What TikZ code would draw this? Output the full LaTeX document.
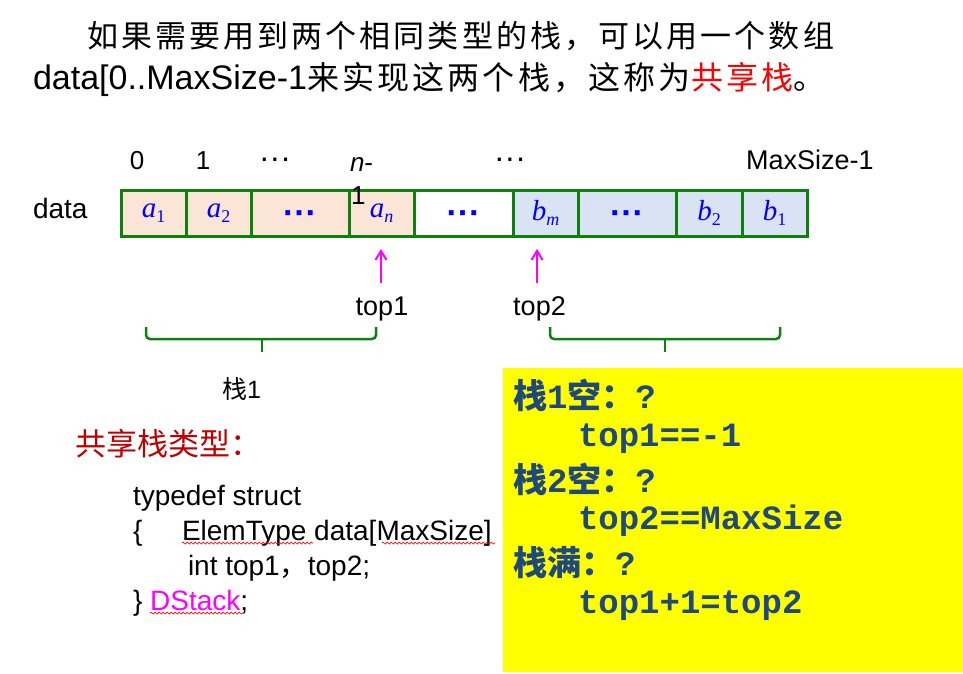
\documentclass[tikz,border=0pt]{standalone}
\usepackage{fontspec}
\setmainfont{Liberation Sans}
\setmonofont{Liberation Mono}
\newfontfamily\cjk{Noto Sans CJK SC}
\newfontfamily\cjkls[LetterSpace=10]{Noto Sans CJK SC}
\newfontfamily\tms{Liberation Serif}
\usetikzlibrary{arrows.meta,decorations.pathmorphing}
\definecolor{cellgreen}{HTML}{0E800E}
\definecolor{peach}{HTML}{FBE5D6}
\definecolor{paleblue}{HTML}{DAE3F3}
\definecolor{mag}{HTML}{FF00FF}
\definecolor{darkred}{HTML}{C00000}
\definecolor{navy}{HTML}{1F497D}
\definecolor{ylw}{HTML}{FFFF00}
\newcommand{\fs}[1]{\fontsize{#1}{#1}\selectfont}
\newcommand{\elem}[2]{\textcolor{blue}{\tms\fs{29}\itshape #1\raisebox{-5pt}{\fs{18}#2}}}
\newcommand{\cdts}{\raisebox{-11pt}[0pt][0pt]{\textcolor{blue}{\fs{34}\bfseries ···}}}
\begin{document}
\begin{tikzpicture}[x=1pt,y=-1pt,
  txt/.style={anchor=base west, inner sep=0, outer sep=0},
  ctxt/.style={anchor=base, inner sep=0, outer sep=0},
  cell/.style={draw=cellgreen, line width=3pt, minimum height=46, inner sep=0},
  arr/.style={draw=mag, line width=2pt, -{Straight Barb[length=9pt,width=11pt]}},
  bracestyle/.style={draw=cellgreen, line width=2.5pt, rounded corners=4pt},
  wavy/.style={draw=red, line width=0.7pt, decorate, decoration={snake, segment length=4pt, amplitude=1pt}},
  boxtxt/.style={anchor=base west, inner sep=0, outer sep=0, text=navy}]
\useasboundingbox (0,0) rectangle (963,674);
\fill[white] (0,0) rectangle (963,674);

% title
\node[txt] (title1) at (87,48) {\cjkls\fs{31}如果需要用到两个相同类型的栈，可以用一个数组};
\node[txt] (title2) at (33,90) {\fs{34}data[0..MaxSize-1\cjkls\fs{32}来实现这两个栈，这称为\textcolor{red}{共享栈}。};

% array cells
\node[cell, fill=peach, minimum width=65] (c1) at (153.5,213) {\elem{a}{\upshape 1}};
\node[cell, fill=peach, minimum width=65] (c2) at (218.5,213) {\elem{a}{\upshape 2}};
\node[cell, fill=peach, minimum width=98] (c3) at (300,213) {\cdts};
\node[cell, fill=peach, minimum width=65] (c4) at (381.5,213) {\elem{a}{n}};
\node[cell, fill=white, minimum width=99] (c5) at (463.5,213) {\cdts};
\node[cell, fill=paleblue, minimum width=65] (c6) at (545.5,213) {\elem{b}{m}};
\node[cell, fill=paleblue, minimum width=98] (c7) at (627,213) {\cdts};
\node[cell, fill=paleblue, minimum width=66] (c8) at (709,213) {\elem{b}{\upshape 2}};
\node[cell, fill=paleblue, minimum width=65] (c9) at (774.5,213) {\elem{b}{\upshape 1}};

% labels
\node[txt] (data) at (33,218) {\fs{28}data};
\node[ctxt] (i0) at (137,169) {\fs{26}0};
\node[ctxt] (i1) at (203,169) {\fs{26}1};
\node[ctxt] (i2) at (275,168) {\fs{32}···};
\node[txt] (in1a) at (350,171) {\fs{26}\textit{n}-};
\node[txt] (in1b) at (351,204) {\fs{26}1};
\node[ctxt] (i3) at (510,168) {\fs{32}···};
\node[txt] (imax) at (746,169) {\fs{27}MaxSize-1};

% top pointers
\node[ctxt] (top1) at (382,315) {\fs{27}top1};
\node[ctxt] (top2) at (539.5,315) {\fs{27}top2};
\coordinate (p1s) at (381,283);
\coordinate (p1e) at (381,249);
\coordinate (p2s) at (537,283);
\coordinate (p2e) at (537,249);
\draw[arr] (p1s) -- (p1e);
\draw[arr] (p2s) -- (p2e);

% braces
\draw[bracestyle] (146,327) -- (146,339) -- (376,339) -- (376,327);
\draw[cellgreen, line width=2.5pt] (262,339) -- (262,352);
\draw[bracestyle] (550,327) -- (550,339) -- (780,339) -- (780,327);
\draw[cellgreen, line width=2.5pt] (665,339) -- (665,352);
\node[txt] (s1) at (222,398) {\fs{25}\cjk 栈\normalfont 1};

% type definition
\node[txt, text=darkred] (hdr) at (75,455) {\cjk\fs{31}共享栈类型：};
\node[txt] (l1) at (133,505) {\fs{28}typedef struct};
\node[txt] (l2a) at (133,540) {\fs{28}\{};
\node[txt] (l2b) at (182,540) {\fs{28}ElemType data[MaxSize]};
\node[txt] (l3) at (188,575) {\fs{28}int top1{\cjk ，}top2;};
\node[txt] (l4) at (133,610) {\fs{28}\} \textcolor{mag}{DStack};};
\draw[wavy] (182,543) -- (313,543);
\draw[wavy] (382,543) -- (495,543);
\draw[wavy] (150,613) -- (243,613);

% yellow box
\node[fill=ylw, inner sep=0, minimum width=460, minimum height=304, anchor=north west] (ybox) at (503,368) {};
\node[boxtxt] (q1) at (513,408) {\fs{34}{\cjk\bfseries 栈}{\ttfamily\bfseries 1}{\cjk\bfseries 空：}{\ttfamily\bfseries ?}};
\node[boxtxt] (a1) at (578,446) {\fs{34}\ttfamily\bfseries top1==-1};
\node[boxtxt] (q2) at (513,492) {\fs{34}{\cjk\bfseries 栈}{\ttfamily\bfseries 2}{\cjk\bfseries 空：}{\ttfamily\bfseries ?}};
\node[boxtxt] (a2) at (578,529) {\fs{34}\ttfamily\bfseries top2==MaxSize};
\node[boxtxt] (q3) at (513,575) {\fs{34}{\cjk\bfseries 栈满：}{\ttfamily\bfseries ?}};
\node[boxtxt] (a3) at (578,613) {\fs{34}\ttfamily\bfseries top1+1=top2};
\end{tikzpicture}
\end{document}
